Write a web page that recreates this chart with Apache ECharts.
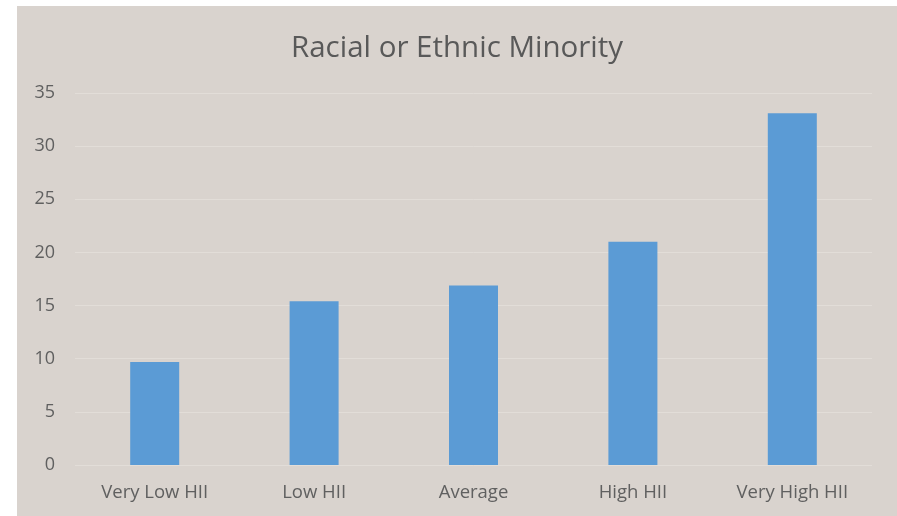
<!DOCTYPE html>
<html>
<head>
<meta charset="utf-8">
<script src="https://cdn.jsdelivr.net/npm/echarts@6/dist/echarts.min.js"></script>
<style>
html,body{margin:0;padding:0;background:#ffffff;width:897px;height:516px;overflow:hidden;}
#chart{position:absolute;left:17px;top:6px;width:880px;height:510px;}
</style>
</head>
<body>
<div id="chart"></div>
<script>
const title = "Racial or Ethnic Minority";
const categories = ["Very Low HII", "Low HII", "Average", "High HII", "Very High HII"];
const values = [9.7, 15.4, 16.9, 21.0, 33.1];
const yTicks = [0, 5, 10, 15, 20, 25, 30, 35];

const chart = echarts.init(document.getElementById('chart'), null, {renderer: 'canvas'});
chart.setOption({
  backgroundColor: '#d9d3ce',
  animation: false,
  title: {
    text: title,
    left: 'center',
    top: 23,
    textStyle: {fontFamily: 'Open Sans', fontSize: 29.5, fontWeight: 'normal', color: '#595959'}
  },
  grid: {left: 58, right: 25, top: 87, bottom: 51, containLabel: false},
  xAxis: {
    type: 'category',
    data: categories,
    axisLine: {show: false},
    axisTick: {show: false},
    axisLabel: {fontFamily: 'Open Sans', fontSize: 18.5, color: '#606060', margin: 18}
  },
  yAxis: {
    type: 'value',
    min: yTicks[0],
    max: yTicks[yTicks.length - 1],
    interval: 5,
    axisLine: {show: false},
    axisTick: {show: false},
    splitLine: {lineStyle: {color: '#e2ddd8', width: 1}},
    axisLabel: {fontFamily: 'Open Sans', fontSize: 18, color: '#606060', margin: 20}
  },
  series: [{
    type: 'bar',
    data: values,
    barWidth: 49,
    itemStyle: {color: '#5b9bd5'}
  }]
});
</script>
</body>
</html>
